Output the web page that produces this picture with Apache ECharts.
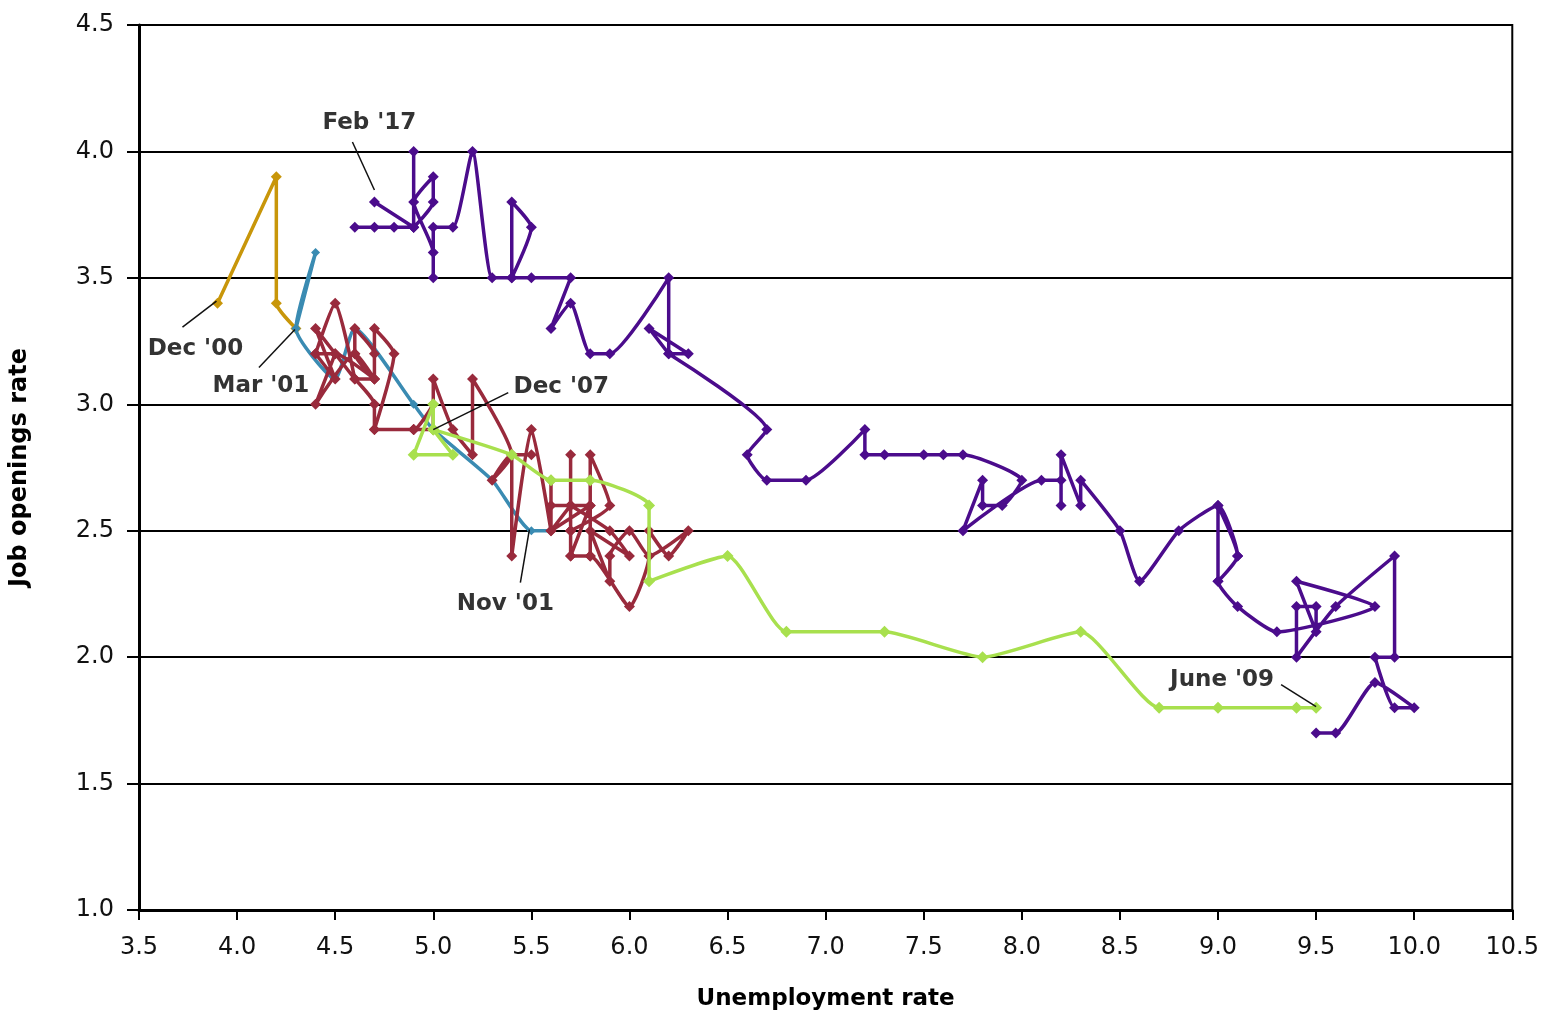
<!DOCTYPE html>
<html>
<head>
<meta charset="utf-8">
<style>
html,body{margin:0;padding:0;background:#fff;}
#chart{width:1542px;height:1016px;}
</style>
<script src="https://cdn.jsdelivr.net/npm/echarts@6/dist/echarts.min.js"></script>
</head>
<body>
<div id="chart"></div>
<script>
// Unemployment rate (x), Job openings rate (y)
var goldData = [[3.9,3.4],[4.2,3.9],[4.2,3.4],[4.3,3.3]];
var blueData = [[4.3,3.3],[4.4,3.6],[4.3,3.3],[4.5,3.1],[4.6,3.3],[4.9,3.0],[5.0,2.9],[5.3,2.7],[5.5,2.5],[5.6,2.5]];
var redData = [
 [5.7,2.5],[5.7,2.6],[5.7,2.8],[5.7,2.5],[5.9,2.6],[5.8,2.8],[5.8,2.4],[5.8,2.6],[5.7,2.4],[5.7,2.5],[5.7,2.6],[5.9,2.5],
 [6.0,2.4],[5.8,2.5],[5.9,2.3],[5.9,2.4],[6.0,2.5],[6.1,2.4],[6.3,2.5],[6.2,2.4],[6.1,2.5],[6.1,2.4],[6.0,2.2],[5.8,2.4],
 [5.7,2.4],[5.7,2.6],[5.6,2.5],[5.8,2.6],[5.6,2.6],[5.6,2.7],[5.6,2.5],[5.5,2.9],[5.4,2.4],[5.4,2.8],[5.5,2.8],[5.4,2.8],
 [5.3,2.7],[5.4,2.8],[5.2,3.1],[5.2,2.8],[5.1,2.9],[5.0,3.1],[5.0,2.9],[4.9,2.9],[5.0,2.9],[5.0,3.0],[4.9,2.9],[4.7,2.9],
 [4.8,3.2],[4.7,3.3],[4.7,3.1],[4.6,3.2],[4.6,3.3],[4.7,3.2],[4.7,3.1],[4.5,3.2],[4.4,3.2],[4.5,3.1],[4.4,3.3],[4.6,3.1],
 [4.5,3.4],[4.4,3.2],[4.5,3.2],[4.4,3.0],[4.6,3.2],[4.7,3.1],[4.6,3.1],[4.7,3.0],[4.7,2.9],[4.9,2.9]
];
var greenData = [[5.0,2.9],[5.0,3.0],[4.9,2.8],[5.1,2.8],[5.0,2.9],[5.4,2.8],[5.6,2.7],[5.8,2.7],[6.1,2.6],[6.1,2.3],
 [6.5,2.4],[6.8,2.1],[7.3,2.1],[7.8,2.0],[8.3,2.1],[8.7,1.8],[9.0,1.8],[9.4,1.8],[9.5,1.8]];
var purpleData = [
 [9.5,1.7],[9.6,1.7],[9.8,1.9],[10.0,1.8],[9.9,1.8],[9.8,2.0],[9.9,2.0],[9.9,2.4],[9.6,2.2],[9.4,2.0],[9.4,2.2],[9.5,2.2],
 [9.5,2.1],[9.4,2.3],[9.8,2.2],[9.3,2.1],[9.1,2.2],[9.0,2.3],[9.0,2.6],[9.1,2.4],[9.0,2.3],[9.1,2.4],[9.0,2.6],[8.8,2.5],
 [8.6,2.3],[8.5,2.5],[8.3,2.7],[8.3,2.6],[8.2,2.8],[8.2,2.6],[8.2,2.7],[8.1,2.7],[7.7,2.5],[7.8,2.7],[7.8,2.6],[7.9,2.6],
 [8.0,2.7],[7.7,2.8],[7.6,2.8],[7.5,2.8],[7.3,2.8],[7.2,2.8],[7.2,2.9],[6.9,2.7],[6.7,2.7],[6.6,2.8],[6.7,2.9],[6.2,3.2],
 [6.3,3.2],[6.1,3.3],[6.2,3.2],[6.2,3.5],[5.9,3.2],[5.8,3.2],[5.7,3.4],[5.6,3.3],[5.7,3.5],[5.5,3.5],[5.4,3.5],[5.5,3.7],
 [5.4,3.8],[5.4,3.5],[5.3,3.5],[5.2,4.0],[5.1,3.7],[5.0,3.7],[5.0,3.5],[5.0,3.6],[4.9,3.8],[5.0,3.9],[5.0,3.8],[4.9,3.7],
 [4.9,4.0],[4.9,3.7],[4.8,3.7],[4.6,3.7],[4.7,3.7],[4.9,3.7],[4.7,3.8]
];
var xTicks = {min:3.5, max:10.5, interval:0.5};
var yTicks = {min:1.0, max:4.5, interval:0.5};
var xTitle = 'Unemployment rate';
var yTitle = 'Job openings rate';
// annotation texts and the data point each one points at
var annLabels = ["Feb '17","Dec '00","Mar '01","Dec '07","Nov '01","June '09"];
var annAnchors = [[4.7,3.8],[3.9,3.4],[4.3,3.3],[5.0,2.9],[5.5,2.5],[9.5,1.8]];

// pixel offsets from anchor: text centre, leader line start and end
var annStyle = [
  {t:[-5,-79], a:[-22,-60], b:[0,-12]},
  {t:[-22,46], a:[-35,24], b:[-1,-2]},
  {t:[-35,58], a:[-37,39], b:[-1,1]},
  {t:[128,-43], a:[75,-37], b:[0,0]},
  {t:[-26,73], a:[-11,52], b:[-2,-1]},
  {t:[-94,-28], a:[-35,-23], b:[0,-1]}
];

var chart = echarts.init(document.getElementById('chart'), null, {renderer:'canvas'});
var FONT = '"DejaVu Sans", "Liberation Sans", Arial, sans-serif';

function mkSeries(name, data, color, size, z){
  return {
    name:name, type:'line', data:data, smooth:0.18, z:z,
    symbol:'diamond', symbolSize:size,
    lineStyle:{color:color, width:3.5},
    itemStyle:{color:color},
    emphasis:{disabled:true},
    animation:false
  };
}

var option = {
  animation:false,
  backgroundColor:'#fff',
  grid:{left:138, right:29, top:25, bottom:105, show:true, borderColor:'#000', borderWidth:2, backgroundColor:'transparent'},
  xAxis:{
    type:'value', min:xTicks.min, max:xTicks.max, interval:xTicks.interval,
    name:xTitle, nameLocation:'middle', nameGap:78,
    nameTextStyle:{fontFamily:FONT, fontSize:23, fontWeight:'bold', color:'#000'},
    axisLine:{show:true, onZero:false, lineStyle:{color:'#000', width:3}},
    axisTick:{show:true, inside:false, length:10, lineStyle:{color:'#000', width:2}},
    axisLabel:{fontFamily:FONT, fontSize:24, color:'#111', margin:26, formatter:function(v){return v.toFixed(1);}},
    splitLine:{show:false}
  },
  yAxis:{
    type:'value', min:yTicks.min, max:yTicks.max, interval:yTicks.interval,
    name:yTitle, nameLocation:'middle', nameGap:107, nameRotate:90,
    nameTextStyle:{fontFamily:FONT, fontSize:24, fontWeight:'bold', color:'#000'},
    axisLine:{show:true, onZero:false, lineStyle:{color:'#000', width:3}},
    axisTick:{show:true, inside:false, length:12, lineStyle:{color:'#000', width:2}},
    axisLabel:{fontFamily:FONT, fontSize:24, color:'#111', margin:25, formatter:function(v){return v.toFixed(1);}},
    splitLine:{show:true, lineStyle:{color:'#000', width:2}}
  },
  series:[
    mkSeries('Dec00-Mar01', goldData, '#C8960A', 11, 3),
    mkSeries('Mar01-Nov01', blueData, '#3A8BB2', 9, 4),
    mkSeries('Dec01-Nov07', redData, '#992A3C', 11, 5),
    mkSeries('Dec07-Jun09', greenData, '#A8E04E', 12, 6),
    mkSeries('Jul09-Feb17', purpleData, '#4B0C8C', 11, 5)
  ]
};
chart.setOption(option);

function drawAnnotations(){
  var els = [];
  for (var i=0;i<annLabels.length;i++){
    var p = chart.convertToPixel({gridIndex:0}, annAnchors[i]);
    var s = annStyle[i];
    els.push({
      type:'line', silent:true, z:20,
      shape:{x1:p[0]+s.a[0], y1:p[1]+s.a[1], x2:p[0]+s.b[0], y2:p[1]+s.b[1]},
      style:{stroke:'#111', lineWidth:1.5}
    });
    els.push({
      type:'text', silent:true, z:21,
      x:p[0]+s.t[0], y:p[1]+s.t[1],
      style:{text:annLabels[i], fill:'#333', font:'bold 23px ' + FONT, align:'center', verticalAlign:'middle'}
    });
  }
  chart.setOption({graphic:{elements:els}});
}
drawAnnotations();
</script>
</body>
</html>
